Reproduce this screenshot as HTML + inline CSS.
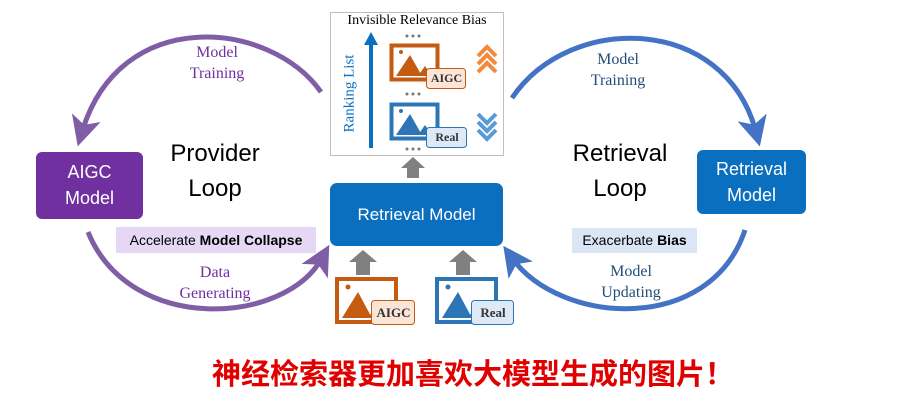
<!DOCTYPE html>
<html><head><meta charset="utf-8"><style>
body{margin:0;width:906px;height:402px;background:#fff;overflow:hidden;position:relative;font-family:"Liberation Sans",sans-serif}
.abs{position:absolute}
.serif{font-family:"Liberation Serif",serif}
</style></head><body>
<svg class="abs" style="left:0;top:0" width="906" height="402">
<defs>
<marker id="pa" markerWidth="6" markerHeight="6" refX="3" refY="3" orient="auto" markerUnits="strokeWidth"><path d="M0,0 L6,3 L0,6 L1.5,3z" fill="#7f5ea6"/></marker>
<marker id="ba" markerWidth="6" markerHeight="6" refX="3" refY="3" orient="auto" markerUnits="strokeWidth"><path d="M0,0 L6,3 L0,6 L1.5,3z" fill="#4472c4"/></marker>
</defs>
<g fill="none" stroke-width="5">
<path d="M321 92 C270 20,120 5,82 132" stroke="#7f5ea6" marker-end="url(#pa)"/>
<path d="M88 232 C130 335,285 325,322 258" stroke="#7f5ea6" marker-end="url(#pa)"/>
<path d="M512 98 C570 12,725 15,756 132" stroke="#4472c4" marker-end="url(#ba)"/>
<path d="M745 230 C710 335,560 325,512 258" stroke="#4472c4" marker-end="url(#ba)"/>
</g>
<rect x="330.5" y="12.5" width="173" height="143" fill="#fff" stroke="#bfbfbf"/>
<path d="M371 148 V42" stroke="#0b6fc0" stroke-width="4"/><path d="M364 45 L371 32 L378 45z" fill="#0b6fc0"/>
<path d="M407 178 V168 H401 L413 157 L425 168 H419 V178z" fill="#808080"/>
<path d="M356 275 V262 H349 L363 250 L377 262 H370 V275z" fill="#808080"/>
<path d="M456 275 V262 H449 L463 250 L477 262 H470 V275z" fill="#808080"/>
<g fill="none" stroke="#f08a3c" stroke-width="4"><path d="M478 56 L487 47 L496 56"/><path d="M478 64 L487 55 L496 64"/><path d="M478 72 L487 63 L496 72"/></g>
<g fill="none" stroke="#5b9bd5" stroke-width="4"><path d="M478 114 L487 123 L496 114"/><path d="M478 122 L487 131 L496 122"/><path d="M478 130 L487 139 L496 130"/></g>
<g fill="#777"><circle cx="407" cy="36" r="1.5"/><circle cx="413" cy="36" r="1.5"/><circle cx="419" cy="36" r="1.5"/><circle cx="407" cy="94" r="1.5"/><circle cx="413" cy="94" r="1.5"/><circle cx="419" cy="94" r="1.5"/><circle cx="407" cy="149" r="1.5"/><circle cx="413" cy="149" r="1.5"/><circle cx="419" cy="149" r="1.5"/></g>
<rect x="391.5" y="45.5" width="46" height="34" fill="#fff" stroke="#c55a11" stroke-width="4"/>
<path d="M396 76 L410 55 L422 76z M418 76 L425 66 L432 76z" fill="#c55a11"/><circle cx="401" cy="52" r="2" fill="#c55a11"/>
<rect x="426.5" y="68.5" width="39" height="20" rx="3" fill="#fbe5d6" stroke="#c55a11"/>
<rect x="391.5" y="104.5" width="46" height="34" fill="#fff" stroke="#2e75b6" stroke-width="4"/>
<path d="M396 135 L410 114 L422 135z M418 135 L425 125 L432 135z" fill="#2e75b6"/><circle cx="401" cy="111" r="2" fill="#2e75b6"/>
<rect x="426.5" y="127.5" width="40" height="20" rx="3" fill="#dde9f6" stroke="#2e75b6"/>
<rect x="337" y="279" width="59" height="43" fill="#fff" stroke="#c55a11" stroke-width="4"/>
<path d="M342 318 L358 292 L372 318z M368 318 L376 306 L384 318z" fill="#c55a11"/><circle cx="348" cy="287" r="2.5" fill="#c55a11"/>
<rect x="371.5" y="300.5" width="43" height="24" rx="3" fill="#fbe5d6" stroke="#c55a11"/>
<rect x="437" y="279" width="59" height="43" fill="#fff" stroke="#2e75b6" stroke-width="4"/>
<path d="M442 318 L458 292 L472 318z M468 318 L476 306 L484 318z" fill="#2e75b6"/><circle cx="448" cy="287" r="2.5" fill="#2e75b6"/>
<rect x="471.5" y="300.5" width="42" height="24" rx="3" fill="#dde9f6" stroke="#2e75b6"/>
</svg>
<div class="abs serif" style="left:330px;top:13px;width:174px;text-align:center;font-size:14px">Invisible Relevance Bias</div>
<div class="abs serif" style="left:350px;top:95px;width:0;height:0"><div style="position:absolute;left:-50px;top:-10px;width:100px;text-align:center;transform:rotate(-90deg);font-size:15px;color:#0b6fc0">Ranking List</div></div>
<div class="abs serif" style="left:427px;top:71px;width:39px;text-align:center;font-size:12px;font-weight:bold;color:#333">AIGC</div>
<div class="abs serif" style="left:427px;top:130px;width:40px;text-align:center;font-size:12px;font-weight:bold;color:#333">Real</div>
<div class="abs serif" style="left:372px;top:305px;width:43px;text-align:center;font-size:13px;font-weight:bold;color:#333">AIGC</div>
<div class="abs serif" style="left:472px;top:305px;width:42px;text-align:center;font-size:13px;font-weight:bold;color:#333">Real</div>

<div class="abs" style="left:330px;top:183px;width:173px;height:63px;background:#0b6fc0;border-radius:7px;color:#fff;font-size:17px;text-align:center;line-height:63px">Retrieval Model</div>
<div class="abs" style="left:36px;top:152px;width:107px;height:67px;background:#7030a0;border-radius:6px;color:#fff;font-size:18px;text-align:center;line-height:26px;padding-top:7px;box-sizing:border-box">AIGC<br>Model</div>
<div class="abs" style="left:697px;top:150px;width:109px;height:64px;background:#0b6fc0;border-radius:6px;color:#fff;font-size:18px;text-align:center;line-height:26px;padding-top:6px;box-sizing:border-box">Retrieval<br>Model</div>

<div class="abs" style="left:150px;top:136px;width:130px;text-align:center;font-size:24px;line-height:35px">Provider<br>Loop</div>
<div class="abs" style="left:555px;top:136px;width:130px;text-align:center;font-size:24px;line-height:35px">Retrieval<br>Loop</div>

<div class="abs" style="left:116px;top:227px;width:200px;height:26px;background:#e6d8f5;font-size:14px;line-height:26px;text-align:center">Accelerate <b>Model Collapse</b></div>
<div class="abs" style="left:572px;top:228px;width:125px;height:25px;background:#dae6f5;font-size:14px;line-height:25px;text-align:center">Exacerbate <b>Bias</b></div>

<div class="abs serif" style="left:162px;top:42px;width:110px;text-align:center;font-size:16px;line-height:21px;color:#7030a0">Model<br>Training</div>
<div class="abs serif" style="left:160px;top:262px;width:110px;text-align:center;font-size:16px;line-height:21px;color:#7030a0">Data<br>Generating</div>
<div class="abs serif" style="left:563px;top:49px;width:110px;text-align:center;font-size:16px;line-height:21px;color:#1f4e79">Model<br>Training</div>
<div class="abs serif" style="left:576px;top:261px;width:110px;text-align:center;font-size:16px;line-height:21px;color:#1f4e79">Model<br>Updating</div>

<div class="abs" style="left:20px;top:351px;width:906px;text-align:center;font-family:'Liberation Sans','Noto Sans CJK SC',sans-serif;font-size:29px;font-weight:bold;color:#e00000">神经检索器更加喜欢大模型生成的图片！</div>
</body></html>
